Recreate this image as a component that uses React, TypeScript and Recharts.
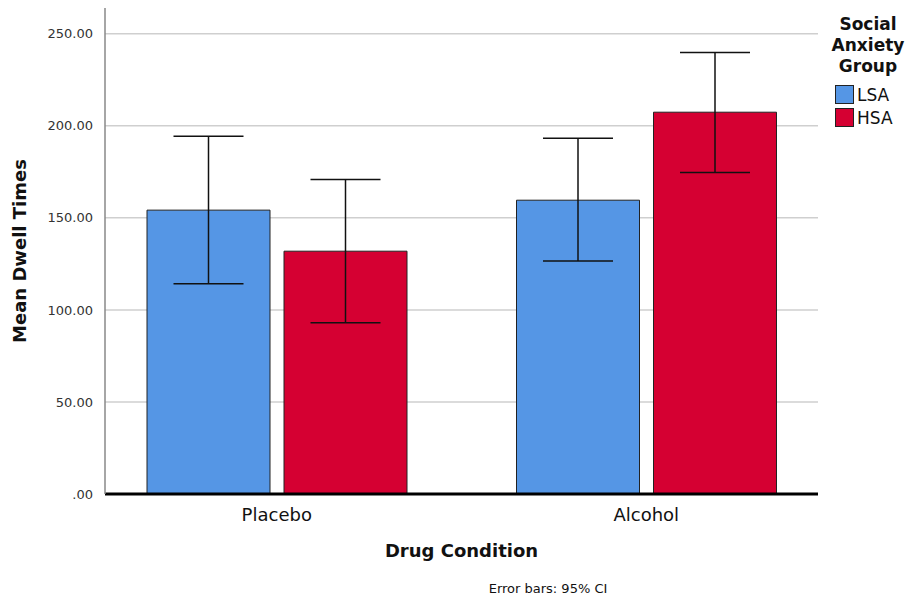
import React from "react";
import {
  BarChart,
  Bar,
  XAxis,
  YAxis,
  CartesianGrid,
  ErrorBar,
  Label,
} from "recharts";

const conditions = ["Placebo", "Alcohol"];
const lsaMeans = [154.2, 159.6];
const hsaMeans = [131.9, 207.4];
// 95% CI bounds [lower, upper]
const lsaCI = [
  [114.2, 194.4],
  [126.6, 193.2],
];
const hsaCI = [
  [93.0, 170.8],
  [174.7, 239.8],
];
const yTicks = [0, 50, 100, 150, 200, 250];

const LSA_COLOR = "#5596e5";
const HSA_COLOR = "#d50032";
const FONT = "'DejaVu Sans', sans-serif";

const chartData = conditions.map((name, i) => ({
  name,
  lsa: lsaMeans[i],
  hsa: hsaMeans[i],
  lsaErr: [lsaMeans[i] - lsaCI[i][0], lsaCI[i][1] - lsaMeans[i]],
  hsaErr: [hsaMeans[i] - hsaCI[i][0], hsaCI[i][1] - hsaMeans[i]],
}));

const formatTick = (v: number) => (v === 0 ? ".00" : v.toFixed(2));

const GroupLegend = () => (
  <div
    style={{
      position: "absolute",
      left: 826,
      top: 14,
      width: 84,
      fontFamily: FONT,
      color: "#111",
    }}
  >
    <div
      style={{
        fontWeight: "bold",
        fontSize: 17,
        lineHeight: "21px",
        textAlign: "center",
        marginBottom: 6,
      }}
    >
      Social
      <br />
      Anxiety
      <br />
      Group
    </div>
    {[
      { label: "LSA", color: LSA_COLOR },
      { label: "HSA", color: HSA_COLOR },
    ].map((item) => (
      <div
        key={item.label}
        style={{ display: "flex", alignItems: "center", height: 23, marginLeft: 9 }}
      >
        <div
          style={{
            width: 17,
            height: 17,
            background: item.color,
            border: "1px solid #222",
            marginRight: 3,
          }}
        />
        <span style={{ fontSize: 17 }}>{item.label}</span>
      </div>
    ))}
  </div>
);

export default function App() {
  return (
    <div style={{ position: "absolute", left: 0, top: 0, width: 909, height: 603, background: "#fff" }}>
      <BarChart
        width={909}
        height={603}
        data={chartData}
        margin={{ top: 8, right: 91, bottom: 79, left: 0 }}
        barSize={123}
        barGap={14}
        barCategoryGap={55}
      >
        <CartesianGrid
          vertical={false}
          stroke="#cfcfcf"
          strokeWidth={1.5}
          horizontalValues={yTicks}
        />
        <XAxis
          dataKey="name"
          height={30}
          padding={{ left: -13, right: -13 }}
          axisLine={{ stroke: "#000", strokeWidth: 3 }}
          tickLine={false}
          tick={{ fontFamily: FONT, fontSize: 18, fill: "#111" }}
          tickMargin={8}
        >
          <Label
            value="Drug Condition"
            position="bottom"
            offset={20}
            style={{ fontFamily: FONT, fontSize: 18, fontWeight: "bold", fill: "#111" }}
          />
        </XAxis>
        <YAxis
          width={105}
          domain={[0, 264]}
          ticks={yTicks}
          tickFormatter={formatTick}
          axisLine={{ stroke: "#888", strokeWidth: 1.5 }}
          tickLine={false}
          tickMargin={6}
          tick={{ fontFamily: FONT, fontSize: 13, fill: "#333" }}
        >
          <Label
            value="Mean Dwell Times"
            angle={-90}
            position="insideLeft"
            offset={20}
            style={{ textAnchor: "middle", fontFamily: FONT, fontSize: 18, fontWeight: "bold", fill: "#111" }}
          />
        </YAxis>
        <Bar dataKey="lsa" name="LSA" fill={LSA_COLOR} stroke="#222" strokeWidth={1} isAnimationActive={false}>
          <ErrorBar dataKey="lsaErr" width={35} stroke="#111" strokeWidth={1.5} />
        </Bar>
        <Bar dataKey="hsa" name="HSA" fill={HSA_COLOR} stroke="#222" strokeWidth={1} isAnimationActive={false}>
          <ErrorBar dataKey="hsaErr" width={35} stroke="#111" strokeWidth={1.5} />
        </Bar>
      </BarChart>
      <GroupLegend />
      <div
        style={{
          position: "absolute",
          left: 0,
          width: 1096,
          top: 581,
          textAlign: "center",
          fontFamily: FONT,
          fontSize: 13,
          color: "#111",
        }}
      >
        Error bars: 95% CI
      </div>
    </div>
  );
}
